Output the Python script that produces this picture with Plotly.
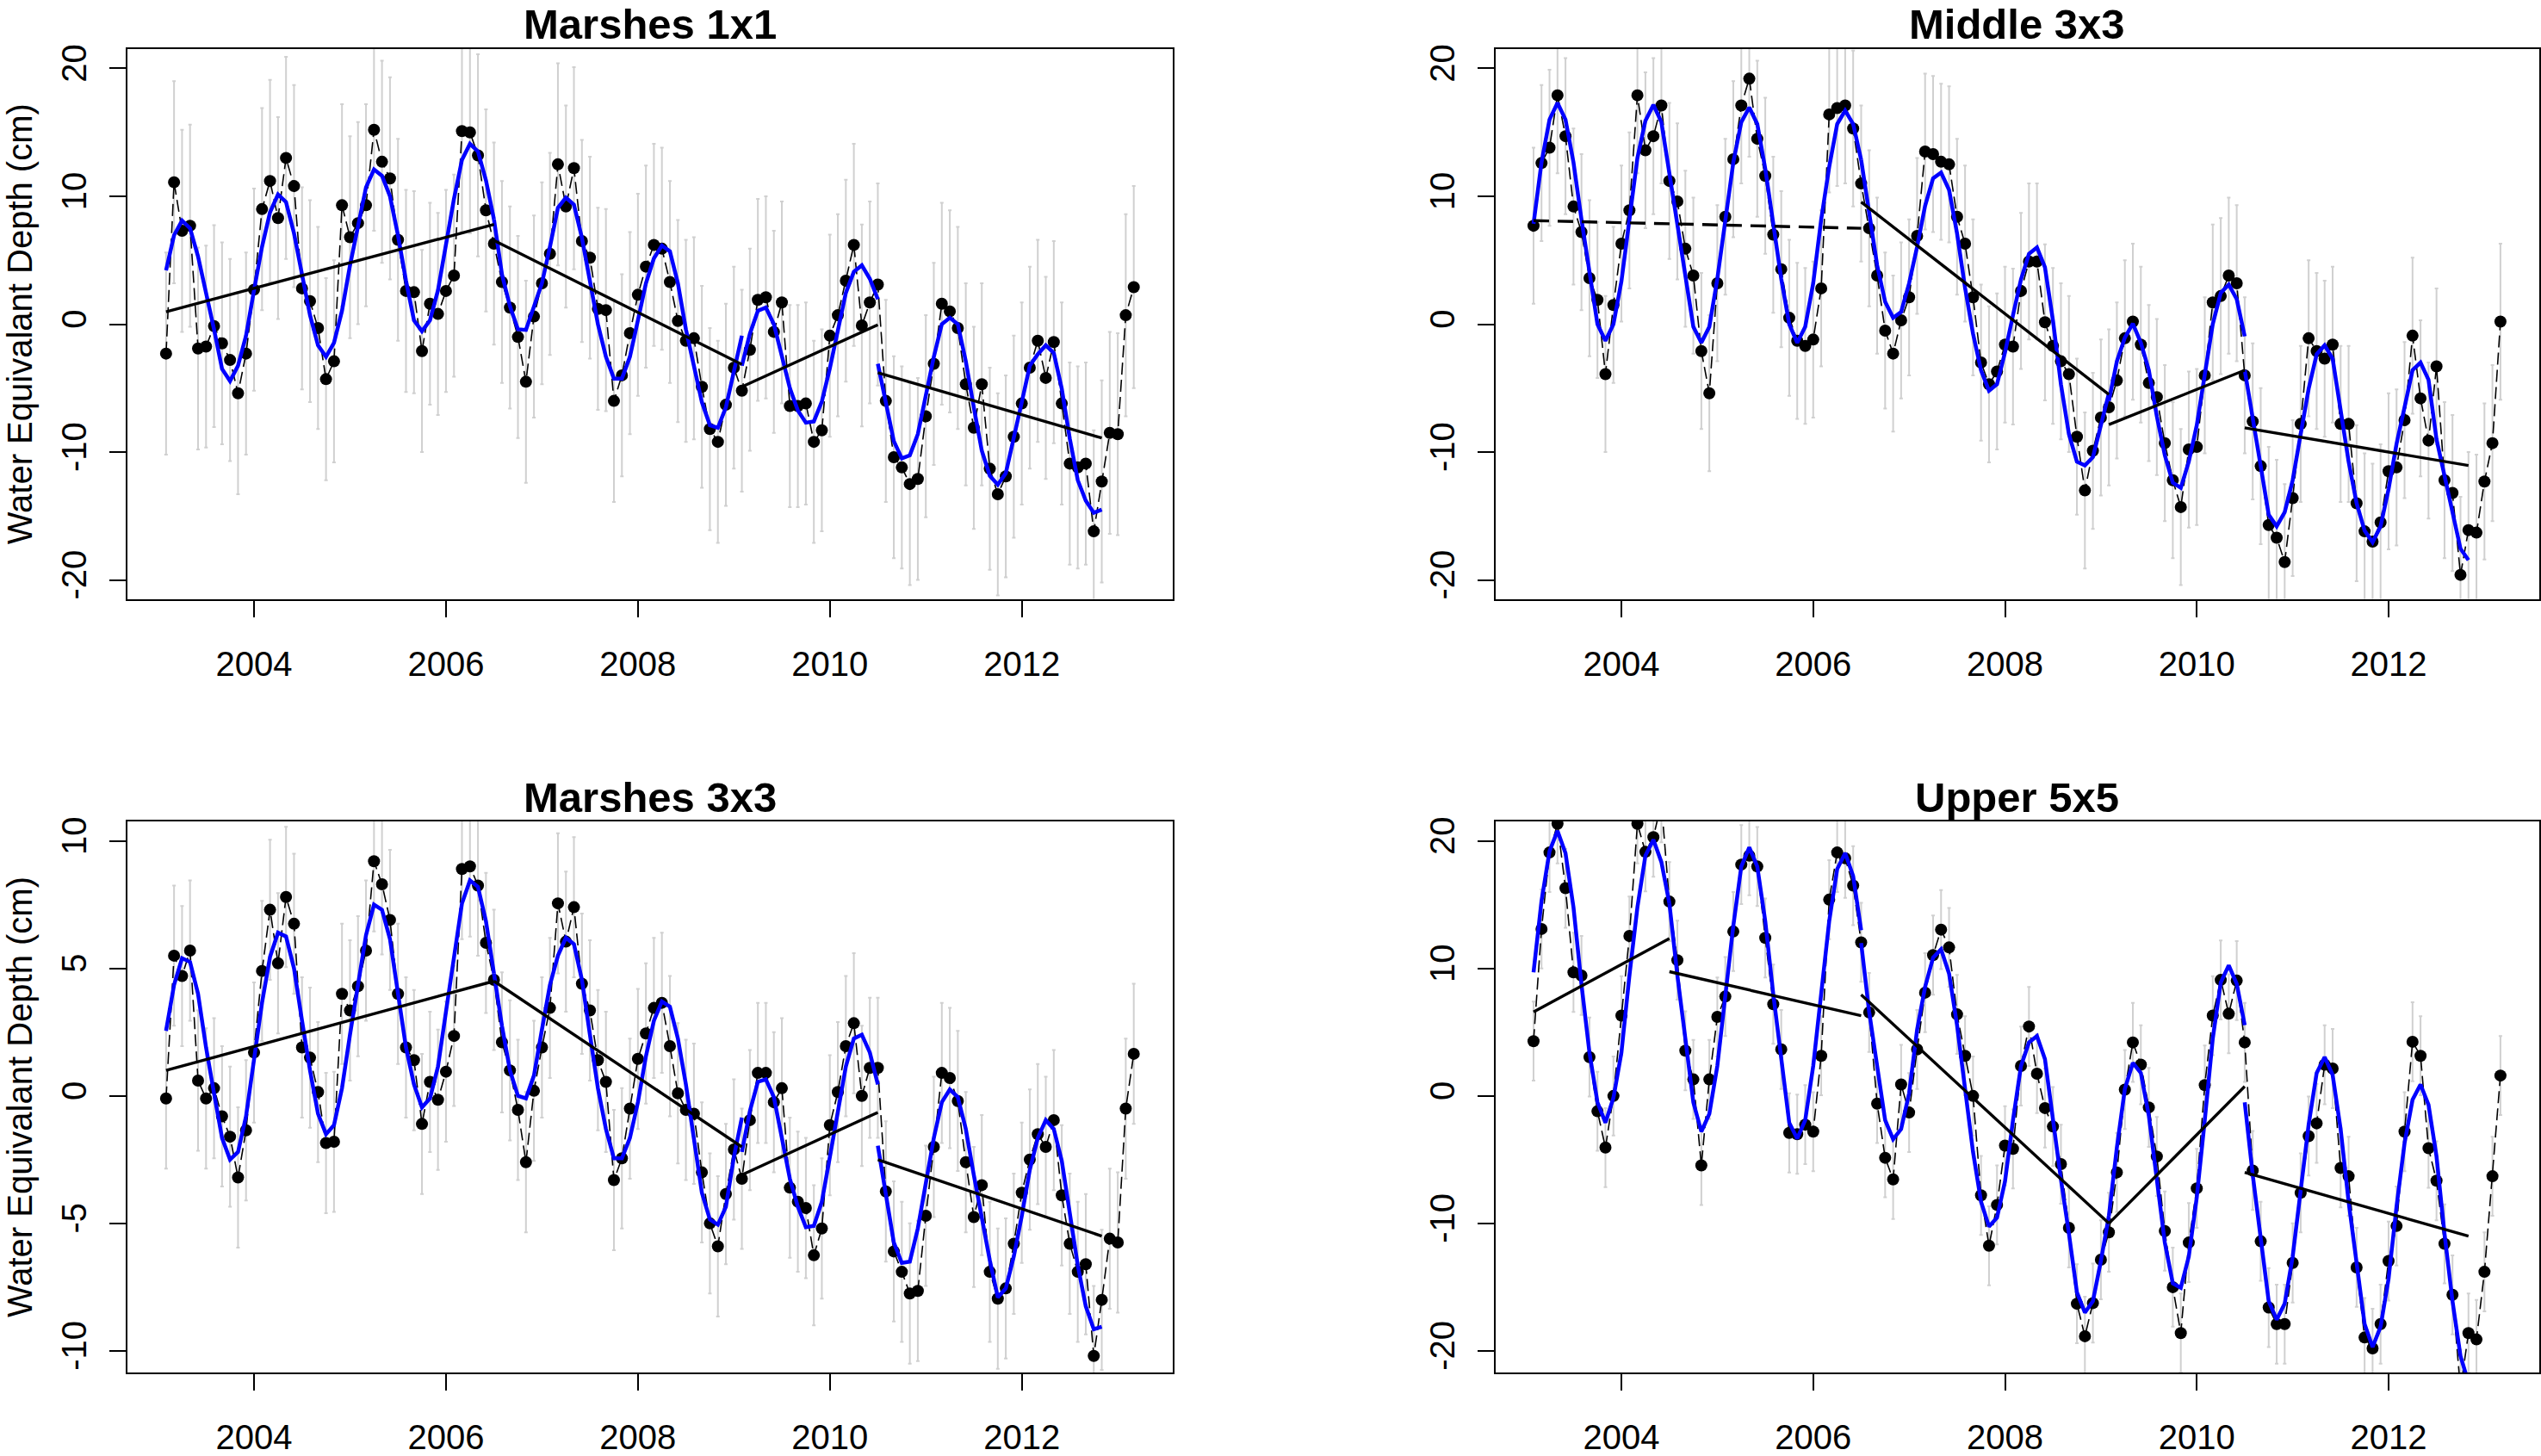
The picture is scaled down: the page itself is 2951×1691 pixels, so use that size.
import plotly.graph_objects as go

FIG_W, FIG_H = 2951, 1691
FONT = "Liberation Sans, Arial, Helvetica, sans-serif"

# ---------------- data ----------------
# monthly time axis, Feb 2003 .. Mar 2013 (decimal years)
n_months = 122
time = [2003 + (m + 1) / 12 for m in range(n_months)]

year_ticks = [2004, 2006, 2008, 2010, 2012]
year_labels = ["2004", "2006", "2008", "2010", "2012"]

# ---- Marshes 1x1 ----
marsh1_obs = [
    -2.3, 11.1, 7.3, 7.7, -1.9, -1.75, -0.15, -1.5, -2.8, -5.4,
    -2.3, 2.7, 9.0, 11.2, 8.3, 13.0, 10.8, 2.8, 1.8, -0.3,
    -4.3, -2.9, 9.3, 6.8, 7.9, 9.3, 15.2, 12.7, 11.4, 6.6,
    2.6, 2.5, -2.1, 1.6, 0.8, 2.6, 3.8, 15.1, 15.0, 13.2,
    8.9, 6.3, 3.3, 1.3, -1.0, -4.5, 0.6, 3.2, 5.5, 12.5,
    9.2, 12.2, 6.5, 5.2, 1.2, 1.1, -6.0, -4.0, -0.7, 2.3,
    4.5, 6.2, 5.9, 3.3, 0.25, -1.3, -1.1, -4.9, -8.2, -9.2,
    -6.3, -3.4, -5.2, -2.0, 1.9, 2.1, -0.6, 1.7, -6.4, -6.4,
    -6.2, -9.2, -8.3, -0.9, 0.7, 3.4, 6.2, -0.1, 1.7, 3.1,
    -6.0, -10.4, -11.2, -12.5, -12.1, -7.2, -3.1, 1.6, 1.0, -0.3,
    -4.7, -8.1, -4.7, -11.3, -13.3, -11.9, -8.8, -6.2, -3.4, -1.3,
    -4.2, -1.4, -6.2, -10.9, -11.2, -10.9, -16.2, -12.3, -8.5, -8.6,
    0.7, 2.9]
marsh1_err = 7.9
marsh1_fit_start = [0, 41, 72, 89]
marsh1_fit_a = [4.2, 6.95, 8.1, 7.5, 5.3, 2.5, -0.4, -3.5, -4.45, -3.25,
                -0.9, 2.65, 6.05, 8.75, 10.15, 9.55, 7.1, 3.9, 0.7, -1.65,
                -2.55, -1.45, 1.05, 4.6, 7.85, 10.7, 12.1, 11.6, 10.0, 6.95,
                3.4, 0.3, -0.55, 0.3, 2.65, 6.2, 9.8, 12.85, 14.1, 13.5,
                11.25, 8.2]
marsh1_fit_b = [8.2, 3.9, 1.4, -0.4, -0.45, 1.4, 3.2, 6.05, 9.1, 9.9,
                9.35, 6.75, 3.2, 0.0, -2.55, -4.25, -4.25, -2.55, 0.3, 3.2,
                5.15, 6.15, 5.7, 3.2, -0.4, -3.25, -6.1, -7.9, -8.1, -6.5,
                -3.6, -0.9]
marsh1_fit_c = [-3.25, -0.75, 1.05, 1.3, 0.0, -2.55, -5.0, -6.75, -7.7, -7.6,
                -6.05, -3.45, -0.45, 2.45, 4.1, 4.6, 3.55, 1.95]
marsh1_fit_d = [-3.1, -6.1, -9.15, -10.5, -10.25, -8.6, -5.4, -2.55, 0.0, 0.5,
                0.0, -2.9, -6.5, -9.9, -11.85, -12.55, -11.65, -9.0, -6.1, -3.25,
                -2.35, -1.65, -2.25, -5.05, -8.95, -12.2, -13.8, -14.75, -14.5]
marsh1_trend_from = [0, 41, 72, 89]
marsh1_trend_to = [41, 72, 89, 117]
marsh1_trend_v0 = [0.97, 6.55, -4.9, -3.8]
marsh1_trend_v1 = [7.8, -3.15, -0.05, -8.9]
marsh1_trend_dashed = [False, False, False, False]

# ---- Middle 3x3 ----
middle3_obs = [
    7.7, 12.6, 13.8, 17.9, 14.7, 9.2, 7.2, 3.6, 1.9, -3.9,
    1.5, 6.3, 8.9, 17.9, 13.6, 14.7, 17.1, 11.2, 9.6, 5.9,
    3.8, -2.1, -5.4, 3.2, 8.4, 12.9, 17.1, 19.2, 14.5, 11.6,
    7.0, 4.3, 0.5, -1.3, -1.7, -1.2, 2.8, 16.4, 16.9, 17.1,
    15.3, 11.0, 7.5, 3.8, -0.5, -2.3, 0.3, 2.1, 6.9, 13.5,
    13.3, 12.7, 12.5, 8.4, 6.3, 2.1, -3.0, -4.7, -3.7, -1.6,
    -1.75, 2.6, 4.9, 4.9, 0.15, -1.7, -2.9, -3.9, -8.8, -13.0,
    -9.9, -7.3, -6.5, -4.4, -1.1, 0.2, -1.6, -4.6, -5.7, -9.3,
    -12.2, -14.3, -9.8, -9.6, -4.0, 1.7, 2.2, 3.8, 3.2, -4.0,
    -7.6, -11.1, -15.7, -16.7, -18.6, -13.6, -7.8, -1.1, -2.1, -2.7,
    -1.6, -7.8, -7.8, -14.0, -16.2, -17.0, -15.5, -11.5, -11.2, -7.5,
    -0.9, -5.8, -9.1, -3.3, -12.2, -13.2, -19.6, -16.1, -16.3, -12.3,
    -9.3, 0.2]
middle3_err = 6.1
middle3_fit_start = [0, 41, 72, 89]
middle3_fit_a = [7.85, 12.65, 16.0, 17.3, 16.0, 12.65, 8.2, 3.9, 0.0, -1.3,
                 0.0, 3.35, 8.2, 13.0, 15.9, 17.15, 15.8, 11.8, 7.85, 3.55,
                 -0.2, -1.45, -0.2, 3.55, 8.2, 12.65, 15.8, 16.95, 15.65, 12.15,
                 7.85, 3.55, 0.0, -1.45, -0.2, 3.2, 8.2, 12.3, 15.65, 16.7,
                 15.65, 12.85]
middle3_fit_b = [12.85, 8.55, 4.6, 1.75, 0.5, 0.95, 3.2, 6.05, 9.25, 11.4,
                 11.85, 10.5, 7.1, 2.85, -0.75, -3.6, -5.2, -4.7, -2.2, 0.7,
                 3.5, 5.5, 6.0, 4.45, 0.3, -4.7, -8.6, -10.75, -11.05, -10.4,
                 -7.9, -5.4]
middle3_fit_c = [-6.0, -2.9, -1.05, 0.05, -1.45, -3.6, -7.2, -10.25, -12.4, -12.8,
                 -10.75, -7.9, -3.95, 0.0, 2.45, 3.1, 1.95, -0.95]
middle3_fit_d = [-3.6, -7.55, -11.1, -14.9, -15.8, -14.7, -12.2, -8.6, -5.05, -2.35,
                 -1.65, -2.7, -6.5, -10.75, -14.0, -16.15, -17.05, -15.8, -12.9, -9.35,
                 -6.5, -3.6, -3.0, -4.35, -9.0, -11.85, -15.05, -17.55, -18.45]
middle3_trend_from = [0, 41, 72, 89]
middle3_trend_to = [41, 72, 89, 117]
middle3_trend_v0 = [8.1, 9.55, -7.85, -8.1]
middle3_trend_v1 = [7.5, -5.5, -3.6, -11.05]
middle3_trend_dashed = [True, False, False, False]

# ---- Marshes 3x3 ----
marsh3_obs = [
    -0.1, 5.5, 4.7, 5.7, 0.6, -0.1, 0.3, -0.8, -1.6, -3.2,
    -1.35, 1.7, 4.9, 7.3, 5.2, 7.8, 6.75, 1.9, 1.5, 0.15,
    -1.85, -1.8, 4.0, 3.35, 4.3, 5.7, 9.2, 8.3, 6.9, 4.0,
    1.9, 1.4, -1.1, 0.55, -0.15, 0.95, 2.35, 8.9, 9.0, 8.25,
    6.0, 4.55, 2.1, 1.0, -0.55, -2.6, 0.2, 1.9, 3.45, 7.55,
    6.05, 7.4, 4.4, 3.35, 1.4, 0.55, -3.3, -2.45, -0.5, 1.45,
    2.45, 3.45, 3.65, 1.95, 0.1, -0.55, -0.7, -3.0, -5.0, -5.9,
    -3.85, -2.1, -3.25, -0.95, 0.9, 0.9, -0.25, 0.3, -3.6, -4.15,
    -4.4, -6.25, -5.2, -1.15, 0.15, 1.95, 2.85, 0.0, 1.1, 1.1,
    -3.75, -6.1, -6.9, -7.75, -7.65, -4.7, -2.0, 0.9, 0.7, -0.2,
    -2.6, -4.75, -3.5, -6.9, -7.95, -7.55, -5.8, -3.8, -2.5, -1.5,
    -2.0, -0.95, -3.9, -5.8, -6.9, -6.6, -10.2, -8.0, -5.6, -5.75,
    -0.5, 1.65]
marsh3_err = 2.75
marsh3_fit_start = [0, 41, 72, 89]
marsh3_fit_a = [2.55, 4.35, 5.4, 5.25, 4.0, 1.9, 0.1, -1.65, -2.5, -2.2,
                -0.8, 1.5, 3.65, 5.45, 6.4, 6.25, 5.0, 2.95, 1.0, -0.7,
                -1.5, -1.15, 0.3, 2.4, 4.35, 6.3, 7.5, 7.3, 6.15, 4.0,
                1.9, 0.45, -0.45, -0.1, 1.15, 3.3, 5.45, 7.55, 8.45, 8.2,
                6.85, 4.8]
marsh3_fit_b = [4.8, 2.75, 1.0, 0.0, -0.1, 0.8, 2.6, 4.35, 5.5, 6.2,
                5.95, 4.55, 2.4, 0.3, -1.3, -2.45, -2.45, -1.65, -0.25, 1.55,
                2.95, 3.7, 3.5, 2.25, 0.45, -1.65, -3.8, -4.85, -5.05, -4.35,
                -2.4, -0.85]
marsh3_fit_c = [-2.2, -0.6, 0.55, 0.65, -0.05, -1.65, -3.25, -4.35, -5.15, -5.1,
                -4.15, -2.4, -0.6, 1.15, 2.25, 2.4, 1.7, 0.45]
marsh3_fit_d = [-1.95, -3.8, -5.75, -6.55, -6.5, -5.2, -3.45, -1.65, -0.25, 0.25,
                -0.05, -1.3, -3.1, -4.85, -6.45, -7.9, -7.55, -6.3, -4.7, -2.9,
                -1.65, -0.95, -1.3, -2.55, -4.7, -6.65, -8.25, -9.15, -9.05]
marsh3_trend_from = [0, 41, 72, 89]
marsh3_trend_to = [41, 72, 89, 117]
marsh3_trend_v0 = [1.0, 4.5, -3.1, -2.5]
marsh3_trend_v1 = [4.5, -2.0, -0.65, -5.5]
marsh3_trend_dashed = [False, False, False, False]

# ---- Upper 5x5 ----
upper5_obs = [
    4.3, 13.1, 19.1, 21.35, 16.3, 9.7, 9.45, 3.05, -1.2, -4.05,
    0.0, 6.3, 12.55, 21.35, 19.15, 20.3, 23.0, 15.25, 10.65, 3.55,
    1.3, -5.45, 1.3, 6.2, 7.8, 12.9, 18.15, 18.85, 18.0, 12.4,
    7.2, 3.65, -2.9, -3.0, -2.25, -2.8, 3.15, 15.4, 19.1, 18.65,
    16.5, 12.05, 6.55, -0.6, -4.85, -6.55, 0.9, -1.3, 3.65, 8.1,
    11.05, 13.05, 11.65, 6.4, 3.15, 0.0, -7.8, -11.75, -8.55, -3.9,
    -4.15, 2.35, 5.45, 1.75, -0.95, -2.4, -5.35, -10.35, -16.3, -18.85,
    -16.25, -12.85, -10.7, -6.0, 0.5, 4.2, 2.45, -0.9, -4.75, -10.6,
    -15.0, -18.6, -11.5, -7.25, 0.85, 6.3, 9.1, 6.45, 9.05, 4.2,
    -5.85, -11.4, -16.6, -17.9, -17.9, -13.1, -7.6, -3.15, -2.15, 2.45,
    2.15, -5.65, -6.3, -13.45, -18.95, -19.8, -17.9, -12.95, -10.2, -2.8,
    4.25, 3.15, -4.1, -6.65, -11.6, -15.6, -23.0, -18.6, -19.1, -13.8,
    -6.3, 1.6]
upper5_err = 3.1
upper5_fit_start = [0, 17, 41, 72, 89]
upper5_fit_a = [9.7, 15.3, 19.2, 20.8, 19.05, 14.8, 8.75, 3.4, -0.5, -2.1,
                -0.15, 3.4, 9.45, 14.8, 18.85, 20.1, 18.35, 15.1]
upper5_fit_b = [15.1, 9.45, 4.5, -0.5, -2.8, -1.4, 2.35, 8.0, 13.35, 18.0,
                19.5, 18.0, 13.7, 8.0, 2.7, -2.1, -3.35, -1.9, 2.35, 8.0,
                13.7, 17.8, 19.05, 17.25, 13.0]
upper5_fit_c = [12.0, 6.6, 2.35, -1.9, -3.4, -2.6, 0.2, 5.2, 8.55, 10.85,
                11.5, 9.6, 5.55, 0.55, -4.4, -8.3, -10.25, -9.55, -6.7, -1.9,
                2.35, 4.2, 4.7, 2.9, -1.9, -6.55, -10.8, -15.4, -17.0, -16.1,
                -12.95, -9.4]
upper5_fit_d = [-9.4, -4.05, 0.55, 2.6, 1.8, -1.55, -6.55, -11.5, -14.7, -15.05,
                -12.6, -7.95, -1.9, 4.5, 8.9, 10.25, 8.8, 5.55]
upper5_fit_e = [-0.5, -6.2, -11.15, -16.1, -17.55, -16.3, -12.6, -7.6, -2.25, 1.8,
                3.05, 1.65, -2.6, -8.3, -13.3, -17.9, -19.7, -18.1, -14.35, -8.65,
                -3.7, -0.3, 0.9, -0.7, -4.75, -10.8, -16.1, -20.4, -22.5]
upper5_trend_from = [0, 17, 41, 72, 89]
upper5_trend_to = [17, 41, 72, 89, 117]
upper5_trend_v0 = [6.6, 9.75, 7.95, -10.0, -6.0]
upper5_trend_v1 = [12.35, 6.3, -10.0, 0.75, -11.0]
upper5_trend_dashed = [False, False, False, False, False]

# ---------------- layout geometry (pixels of the 2951x1691 page) ----------------
COL_X = [(148.5, 1362.0), (1737.2, 2949.7)]
ROW_Y = [(52.6, 704.6), (968.0, 1620.7)]
X_RANGE = [2002.685, 2013.569]


def px_x(p):
    return p / FIG_W


def px_y(p):
    return 1 - p / FIG_H


panels = [
    dict(title="Marshes 1x1", obs=marsh1_obs, err=marsh1_err,
         fit_start=marsh1_fit_start,
         fits=[marsh1_fit_a, marsh1_fit_b, marsh1_fit_c, marsh1_fit_d],
         tr=(marsh1_trend_from, marsh1_trend_to, marsh1_trend_v0, marsh1_trend_v1, marsh1_trend_dashed),
         yrange=[-21.5, 21.54], yticks=[-20, -10, 0, 10, 20], col=0, row=0, ytitle=True),
    dict(title="Middle 3x3", obs=middle3_obs, err=middle3_err,
         fit_start=middle3_fit_start,
         fits=[middle3_fit_a, middle3_fit_b, middle3_fit_c, middle3_fit_d],
         tr=(middle3_trend_from, middle3_trend_to, middle3_trend_v0, middle3_trend_v1, middle3_trend_dashed),
         yrange=[-21.5, 21.54], yticks=[-20, -10, 0, 10, 20], col=1, row=0, ytitle=False),
    dict(title="Marshes 3x3", obs=marsh3_obs, err=marsh3_err,
         fit_start=marsh3_fit_start,
         fits=[marsh3_fit_a, marsh3_fit_b, marsh3_fit_c, marsh3_fit_d],
         tr=(marsh3_trend_from, marsh3_trend_to, marsh3_trend_v0, marsh3_trend_v1, marsh3_trend_dashed),
         yrange=[-10.85, 10.76], yticks=[-10, -5, 0, 5, 10], col=0, row=1, ytitle=True),
    dict(title="Upper 5x5", obs=upper5_obs, err=upper5_err,
         fit_start=upper5_fit_start,
         fits=[upper5_fit_a, upper5_fit_b, upper5_fit_c, upper5_fit_d, upper5_fit_e],
         tr=(upper5_trend_from, upper5_trend_to, upper5_trend_v0, upper5_trend_v1, upper5_trend_dashed),
         yrange=[-21.7, 21.53], yticks=[-20, -10, 0, 10, 20], col=1, row=1, ytitle=False),
]

fig = go.Figure()
annotations = []
layout_axes = {}

for i, p in enumerate(panels, start=1):
    xa = "x" if i == 1 else f"x{i}"
    ya = "y" if i == 1 else f"y{i}"
    xkey = "xaxis" if i == 1 else f"xaxis{i}"
    ykey = "yaxis" if i == 1 else f"yaxis{i}"
    x0p, x1p = COL_X[p["col"]]
    y0p, y1p = ROW_Y[p["row"]]
    n = len(p["obs"])
    t = time[:n]

    # gray error bars
    fig.add_trace(go.Scatter(
        x=t, y=p["obs"], mode="markers", xaxis=xa, yaxis=ya,
        marker=dict(size=1, color="rgba(0,0,0,0)"),
        error_y=dict(type="constant", value=p["err"], color="#D0D0D0",
                     thickness=2, width=2),
        showlegend=False, hoverinfo="skip"))
    # dashed connecting line
    fig.add_trace(go.Scatter(
        x=t, y=p["obs"], mode="lines", xaxis=xa, yaxis=ya,
        line=dict(color="black", width=1.6, dash="14px,6px"),
        showlegend=False, hoverinfo="skip"))
    # points
    fig.add_trace(go.Scatter(
        x=t, y=p["obs"], mode="markers", xaxis=xa, yaxis=ya,
        marker=dict(size=14, color="black"),
        showlegend=False))
    # blue fitted seasonal curves (one per segment)
    for s, vals in zip(p["fit_start"], p["fits"]):
        fig.add_trace(go.Scatter(
            x=time[s:s + len(vals)], y=vals, mode="lines", xaxis=xa, yaxis=ya,
            line=dict(color="#0000FF", width=4.5),
            showlegend=False))
    # black trend segments
    tf, tt, v0, v1, dsh = p["tr"]
    for a, b, va, vb, d in zip(tf, tt, v0, v1, dsh):
        fig.add_trace(go.Scatter(
            x=[time[a], time[b]], y=[va, vb], mode="lines", xaxis=xa, yaxis=ya,
            line=dict(color="black", width=3.4, dash="18px,10px" if d else "solid"),
            showlegend=False))

    layout_axes[xkey] = dict(
        domain=[px_x(x0p), px_x(x1p)], anchor=ya, range=X_RANGE,
        tickmode="array", tickvals=year_ticks, ticktext=year_labels,
        ticks="outside", ticklen=19, tickwidth=2, tickcolor="black",
        showline=True, mirror=True, linecolor="black", linewidth=2,
        showgrid=False, zeroline=False,
        tickfont=dict(family=FONT, size=40, color="black"),
        ticklabelstandoff=20)
    layout_axes[ykey] = dict(
        domain=[px_y(y1p), px_y(y0p)], anchor=xa, range=p["yrange"],
        tickmode="array", tickvals=p["yticks"],
        ticktext=[str(v) for v in p["yticks"]],
        ticks="outside", ticklen=19, tickwidth=2, tickcolor="black",
        showline=True, mirror=True, linecolor="black", linewidth=2,
        showgrid=False, zeroline=False, tickangle=-90,
        tickfont=dict(family=FONT, size=40, color="black"),
        ticklabelstandoff=11)

    annotations.append(dict(
        text=f"<b>{p['title']}</b>", xref="paper", yref="paper",
        x=px_x((x0p + x1p) / 2), y=px_y(y0p - 29), xanchor="center",
        yanchor="middle", showarrow=False,
        font=dict(family=FONT, size=49, color="black")))
    if p["ytitle"]:
        annotations.append(dict(
            text="Water Equivalant Depth (cm)", xref="paper", yref="paper",
            x=px_x(23), y=px_y((y0p + y1p) / 2), xanchor="center",
            yanchor="middle", textangle=-90, showarrow=False,
            font=dict(family=FONT, size=40, color="black")))

fig.update_layout(
    width=FIG_W, height=FIG_H, autosize=False,
    margin=dict(l=0, r=0, t=0, b=0, pad=0),
    paper_bgcolor="white", plot_bgcolor="white",
    annotations=annotations, showlegend=False,
    **layout_axes)

fig.write_html("out.html", config={"displayModeBar": False},
               post_script="document.body.style.margin='0';")
